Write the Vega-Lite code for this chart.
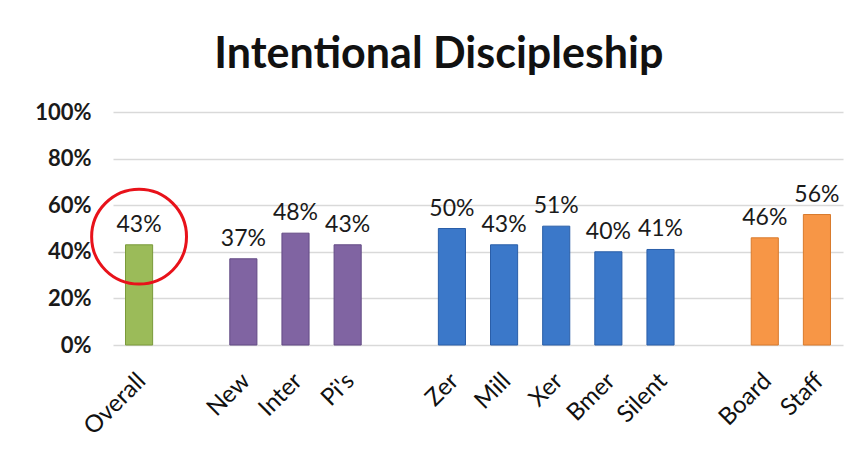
{
  "$schema": "https://vega.github.io/schema/vega-lite/v6.json",
  "width": 730,
  "height": 233,
  "autosize": {"type": "none"},
  "padding": {"left": 113, "top": 112, "right": 16, "bottom": 105},
  "background": "white",
  "datasets": {
    "bars": [
      {"category": "Overall", "group": "Overall", "value": 0.43, "label": "43%"},
      {"category": "New", "group": "Tenure", "value": 0.37, "label": "37%"},
      {"category": "Inter", "group": "Tenure", "value": 0.48, "label": "48%"},
      {"category": "Pi's", "group": "Tenure", "value": 0.43, "label": "43%"},
      {"category": "Zer", "group": "Generation", "value": 0.50, "label": "50%"},
      {"category": "Mill", "group": "Generation", "value": 0.43, "label": "43%"},
      {"category": "Xer", "group": "Generation", "value": 0.51, "label": "51%"},
      {"category": "Bmer", "group": "Generation", "value": 0.40, "label": "40%"},
      {"category": "Silent", "group": "Generation", "value": 0.41, "label": "41%"},
      {"category": "Board", "group": "Role", "value": 0.46, "label": "46%"},
      {"category": "Staff", "group": "Role", "value": 0.56, "label": "56%"}
    ],
    "highlight": [
      {"category": "Overall", "value": 0.465}
    ]
  },
  "title": {
    "text": "Intentional Discipleship",
    "font": "Lato",
    "fontSize": 43,
    "fontWeight": "bold",
    "color": "#111111",
    "anchor": "middle",
    "frame": "bounds",
    "offset": 24
  },
  "config": {
    "view": {"stroke": null},
    "font": "Lato"
  },
  "encoding": {
    "x": {
      "field": "category",
      "type": "nominal",
      "sort": null,
      "scale": {
        "domain": ["Overall", " ", "New", "Inter", "Pi's", "  ", "Zer", "Mill", "Xer", "Bmer", "Silent", "   ", "Board", "Staff"],
        "paddingInner": 0.48,
        "paddingOuter": 0.24
      },
      "axis": {
        "title": null,
        "labelAngle": -45,
        "labelAlign": "right",
        "labelBaseline": "middle",
        "labelFont": "Lato",
        "labelFontSize": 24,
        "labelColor": "#111111",
        "labelPadding": 32,
        "labelOffset": 3,
        "ticks": false,
        "domain": false,
        "grid": false
      }
    }
  },
  "layer": [
    {
      "data": {"name": "bars"},
      "mark": {"type": "bar", "strokeWidth": 1},
      "encoding": {
        "y": {
          "field": "value",
          "type": "quantitative",
          "scale": {"domain": [0, 1], "nice": false},
          "axis": {
            "title": null,
            "format": ".0%",
            "values": [0, 0.2, 0.4, 0.6, 0.8, 1],
            "labelFont": "Lato",
            "labelFontSize": 22,
            "labelFontWeight": "bold",
            "labelColor": "#1a1a1a",
            "labelPadding": 22,
            "ticks": false,
            "domain": false,
            "gridColor": "#d9d9d9",
            "gridWidth": 1.5
          }
        },
        "color": {
          "field": "group",
          "type": "nominal",
          "legend": null,
          "scale": {
            "domain": ["Overall", "Tenure", "Generation", "Role"],
            "range": ["#9bbb59", "#8064a2", "#3b78c9", "#f79646"]
          }
        },
        "stroke": {
          "field": "group",
          "type": "nominal",
          "legend": null,
          "scale": {
            "domain": ["Overall", "Tenure", "Generation", "Role"],
            "range": ["#7a9a3a", "#634a85", "#2a5ea8", "#d87a2c"]
          }
        }
      }
    },
    {
      "data": {"name": "bars"},
      "mark": {"type": "text", "baseline": "bottom", "dy": -8, "font": "Lato", "fontSize": 23, "color": "#1a1a1a"},
      "encoding": {
        "y": {"field": "value", "type": "quantitative"},
        "text": {"field": "label", "type": "nominal"}
      }
    },
    {
      "data": {"name": "highlight"},
      "mark": {"type": "point", "shape": "circle", "filled": false, "size": 9000, "stroke": "#e8121a", "strokeWidth": 3, "opacity": 1},
      "encoding": {
        "y": {"field": "value", "type": "quantitative"}
      }
    }
  ]
}
